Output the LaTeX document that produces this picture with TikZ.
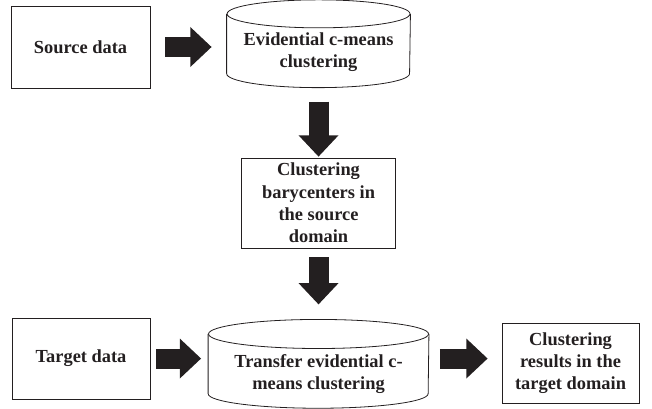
\documentclass[tikz,border=0pt]{standalone}
\usepackage{fontspec}
\setmainfont{Liberation Serif}
\usepackage{xcolor}
\usetikzlibrary{arrows.meta,positioning,shapes.geometric}
\definecolor{ink}{HTML}{231F20}
% text sits a little below the middle of a drum
\newcommand{\drumtext}[2]{\raisebox{-#1}[\height][\depth]{\begin{tabular}{@{}c@{}}#2\end{tabular}}}

\begin{document}
\begin{tikzpicture}[node distance=52pt,>=Latex]
  \tikzstyle{box}=[draw=ink,align=center,text=ink,line width=0.6pt,font=\fontsize{13.8}{16.7}\selectfont\bfseries]
  \tikzstyle{drum}=[box,draw=none]
  \tikzstyle{fat}=[draw=ink,line width=15pt,-{Triangle[length=16pt,width=29pt]}]
  \useasboundingbox (0,0) rectangle (489pt,-306pt);
  \node[box,minimum width=104.25pt,minimum height=61.5pt] (src) at (60.4pt,-35.25pt) {Source data};
  \node[drum,minimum width=137.25pt,minimum height=65.25pt] (ecm) at (238.9pt,-32.8pt) {\drumtext{6.4pt}{Evidential c-means\\clustering}};
  \node[box,below=52.5pt of ecm,minimum width=115.5pt,minimum height=67.5pt] (bary) {Clustering\\barycenters in\\the source\\domain};
  \node[drum,below=53.25pt of bary,minimum width=165pt,minimum height=66pt] (tecm) {\drumtext{7.9pt}{Transfer evidential c-\\means clustering}};
  \node[box,minimum width=103.5pt,minimum height=60.75pt] (tgt) at (60.75pt,-268.9pt) {Target data};
  \node[box,minimum width=102.75pt,minimum height=60pt] (res) at (427.9pt,-272.25pt) {Clustering\\results in the\\target domain};
  % drum outlines: name/end radius/half width
  \foreach \n/\r/\w in {ecm/10.5pt/68.6pt,tecm/10.9pt/82.5pt}{
    \draw[ink,line width=0.6pt] ([yshift=-\r]\n.north west) -- ([yshift=\r]\n.south west)
      arc[start angle=180,end angle=360,x radius=\w,y radius=\r] -- ([yshift=-\r]\n.north east);
    \draw[ink,line width=0.6pt] ([yshift=-\r]\n.north) ellipse[x radius=\w,y radius=\r];
  }
  \draw[fat,shorten <=11.25pt,shorten >=11.25pt] (src.east) -- (src.east -| ecm.west);
  \draw[fat,shorten <=10.5pt,shorten >=0.75pt] (ecm.south) -- (bary.north);
  \draw[fat,shorten <=6.75pt,shorten >=11.25pt] (bary.south) -- (tecm.north);
  \draw[fat,shorten <=4.5pt,shorten >=5.25pt] (tgt.east) -- (tgt.east -| tecm.west);
  \draw[fat,shorten <=8.25pt,shorten >=10.5pt] (tgt.east -| tecm.east) -- (tgt.east -| res.west);
\end{tikzpicture}
\end{document}
